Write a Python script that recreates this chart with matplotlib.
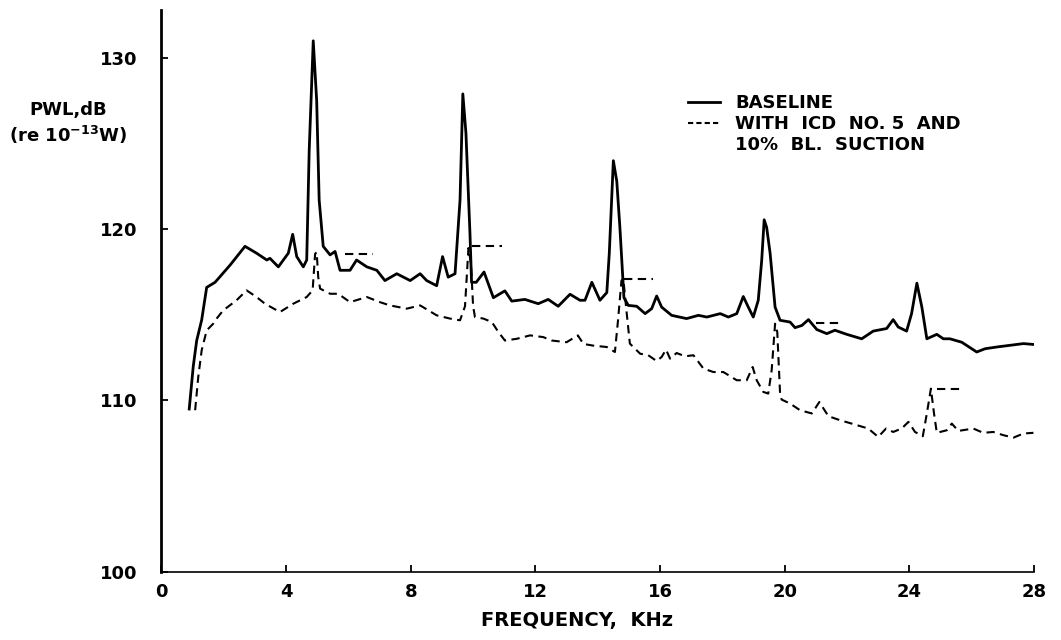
import matplotlib.pyplot as plt
from matplotlib.lines import Line2D

# Baseline spectrum (solid)
base_f = [0.89, 1.02, 1.13, 1.29, 1.45, 1.72, 2.2, 2.68, 3.05, 3.38, 3.48, 3.75, 4.07, 4.21, 4.34,
          4.55, 4.66, 4.74, 4.87, 4.98, 5.06, 5.19, 5.41, 5.57, 5.73, 6.05, 6.26, 6.59, 6.91, 7.17,
          7.55, 7.98, 8.3, 8.51, 8.83, 9.02, 9.2, 9.42, 9.58, 9.67, 9.77, 9.9, 9.95, 10.1, 10.35,
          10.65, 11.02, 11.24, 11.66, 12.09, 12.41, 12.73, 13.11, 13.43, 13.59, 13.81, 14.07, 14.29,
          14.37, 14.5, 14.61, 14.71, 14.84, 14.98, 15.25, 15.52, 15.73, 15.89, 16.05, 16.37, 16.85,
          17.23, 17.5, 17.93, 18.19, 18.46, 18.67, 18.83, 18.99, 19.15, 19.26, 19.34, 19.42, 19.53,
          19.69, 19.85, 20.17, 20.33, 20.55, 20.76, 21.03, 21.35, 21.61, 21.99, 22.47, 22.84, 23.27,
          23.48, 23.64, 23.91, 24.07, 24.24, 24.4, 24.56, 24.88, 25.09, 25.3, 25.68, 26.16, 26.43,
          26.8, 27.23, 27.66, 27.98]
base_db = [109.5, 112.0, 113.5, 114.7, 116.6, 116.9, 117.9, 119.0, 118.6, 118.2, 118.3, 117.8, 118.6,
           119.7, 118.4, 117.8, 118.2, 124.6, 131.0, 127.5, 121.7, 119.0, 118.5, 118.7, 117.6, 117.6,
           118.2, 117.8, 117.6, 117.0, 117.4, 117.0, 117.4, 117.0, 116.7, 118.4, 117.2, 117.4, 121.7,
           127.9, 125.6, 119.7, 116.9, 116.9, 117.5, 116.0, 116.4, 115.8, 115.9, 115.65, 115.9, 115.5,
           116.2, 115.85, 115.85, 116.9, 115.85, 116.3, 118.6, 124.0, 122.8, 120.1, 116.0, 115.55,
           115.5, 115.07, 115.36, 116.1, 115.45, 114.97, 114.78, 114.97, 114.87, 115.07, 114.87,
           115.07, 116.07, 115.45, 114.87, 115.85, 118.17, 120.55, 120.1, 118.6, 115.45, 114.68,
           114.58, 114.25, 114.38, 114.72, 114.14, 113.9, 114.1, 113.86, 113.6, 114.05, 114.2, 114.72,
           114.29, 114.05, 115.07, 116.85, 115.45, 113.6, 113.86, 113.6, 113.6, 113.4, 112.83, 113.02,
           113.12, 113.22, 113.32, 113.27]

# With ICD No. 5 and 10% BL suction (dashed)
icd_f = [1.08, 1.18, 1.29, 1.45, 1.66, 1.77, 1.98, 2.41, 2.73, 3.05, 3.32, 3.8, 4.23, 4.66, 4.85,
         4.93, 4.98, 5.03, 5.09, 5.41, 5.67, 6.05, 6.59, 7.01, 7.33, 7.87, 8.3, 8.83, 9.26, 9.58,
         9.74, 9.85, 9.93, 10.0, 10.06, 10.33, 10.6, 10.81, 11.02, 11.4, 11.83, 12.25, 12.52, 13.0,
         13.36, 13.54, 13.86, 14.29, 14.55, 14.65, 14.76, 14.82, 14.93, 15.03, 15.36, 15.62, 15.89,
         16.05, 16.19, 16.32, 16.53, 16.8, 17.07, 17.39, 17.71, 18.03, 18.46, 18.78, 18.97, 19.1,
         19.31, 19.47, 19.58, 19.69, 19.76, 19.85, 19.9, 20.17, 20.49, 20.87, 21.11, 21.4, 21.77,
         22.2, 22.68, 23.0, 23.25, 23.48, 23.75, 23.97, 24.18, 24.43, 24.56, 24.69, 24.79, 24.88,
         25.2, 25.36, 25.57, 26.05, 26.37, 26.69, 27.02, 27.34, 27.66, 27.98]
icd_db = [109.43, 111.37, 112.93, 114.09, 114.48, 114.78, 115.26, 115.85, 116.43, 116.04, 115.65,
          115.16, 115.65, 116.04, 116.43, 118.56, 118.66, 117.2, 116.53, 116.23, 116.23, 115.74,
          116.04, 115.74, 115.55, 115.36, 115.55, 114.97, 114.78, 114.68, 115.5, 118.9, 118.0, 115.5,
          114.87, 114.78, 114.58, 114.0, 113.5, 113.6, 113.8, 113.7, 113.5, 113.4, 113.8, 113.3, 113.2,
          113.12, 112.83, 114.68, 117.0, 117.1, 115.07, 113.32, 112.73, 112.64, 112.3, 112.54, 112.97,
          112.44, 112.77, 112.58, 112.64, 111.86, 111.66, 111.66, 111.18, 111.18, 111.95, 111.18,
          110.5, 110.4, 111.76, 114.48, 114.0, 110.4, 110.05, 109.82, 109.43, 109.24, 109.91, 109.08,
          108.85, 108.62, 108.36, 107.87, 108.36, 108.16, 108.36, 108.75, 108.16, 107.91, 109.24,
          110.69, 109.24, 108.11, 108.26, 108.65, 108.22, 108.36, 108.11, 108.16, 107.97, 107.83,
          108.07, 108.11]

# peak levels of the suction case, drawn as short dashed bars
peak_db = [118.56, 119.0, 117.1, 114.5, 110.69]
peak_f0 = [5.9, 9.95, 14.85, 21.0, 24.9]
peak_f1 = [6.8, 10.92, 15.78, 21.85, 25.73]

xticks = [0, 4, 8, 12, 16, 20, 24, 28]
yticks = [100, 110, 120, 130]

plt.rcParams['font.family'] = ['DejaVu Sans']
plt.rcParams['font.weight'] = 'bold'

fig = plt.figure(figsize=(10.61, 6.40), dpi=100)
ax = fig.add_axes([0.1522, 0.1067, 0.8224, 0.8777])

dash = (0, (4, 2.6))
ax.plot(base_f, base_db, color='black', lw=2.0, solid_joinstyle='round')
ax.plot(icd_f, icd_db, color='black', lw=1.5, linestyle=dash)
ax.hlines(peak_db, peak_f0, peak_f1, colors='black', lw=1.5, linestyles=[dash])

ax.set_xlim(0, 28)
ax.set_ylim(100, 132.8)
ax.set_xticks(xticks)
ax.set_yticks(yticks)
ax.set_xticklabels([str(t) for t in xticks], fontsize=13, fontweight='bold')
ax.set_yticklabels([str(t) for t in yticks], fontsize=13, fontweight='bold')
ax.tick_params(axis='x', direction='in', length=5, width=1.3, pad=8)
ax.tick_params(axis='y', direction='in', length=5, width=1.3, pad=17)

for s in ['top', 'right']:
    ax.spines[s].set_visible(False)
ax.spines['left'].set_linewidth(2.0)
ax.spines['bottom'].set_linewidth(1.2)

ax.set_xlabel('FREQUENCY,  KHz', fontsize=14, fontweight='bold')
ax.xaxis.set_label_coords(0.476, -0.07)

fig.text(0.064, 0.828, 'PWL,dB', fontsize=13, fontweight='bold', ha='center', va='center')
fig.text(0.064, 0.789, '(re 10$^{-13}$W)', fontsize=13, fontweight='bold', ha='center', va='center')

handles = [Line2D([], [], color='black', lw=2.0),
           Line2D([], [], color='black', lw=1.5, linestyle=(0, (2.5, 1.5))),
           Line2D([], [], color='none')]
labels = ['BASELINE', 'WITH  ICD  NO. 5  AND', '10%  BL.  SUCTION']
leg = ax.legend(handles, labels, loc='upper left', bbox_to_anchor=(0.593, 0.866),
                frameon=False, fontsize=13, handlelength=1.8, handletextpad=0.8,
                labelspacing=0.15, borderpad=0)
for t in leg.get_texts():
    t.set_fontweight('bold')

fig.savefig('out.png', dpi=100)
